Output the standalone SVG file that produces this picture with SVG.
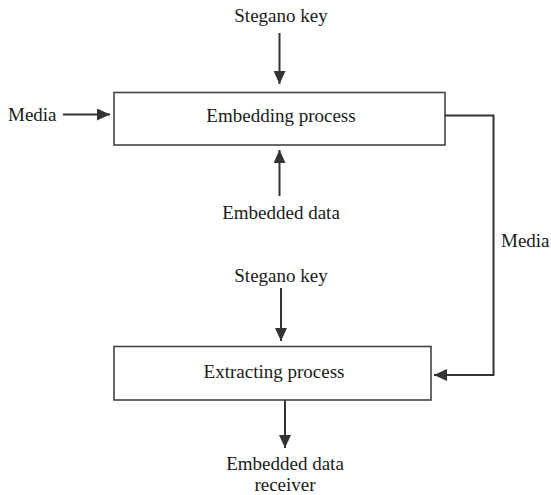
<svg xmlns="http://www.w3.org/2000/svg" width="551" height="495" viewBox="0 0 551 495">
  <style>
    .box { fill: #ffffff; stroke: #444444; stroke-width: 1.6; }
    .lbl { font-family: "Liberation Serif", "Times New Roman", serif; font-size: 19px; fill: #1a1a1a; }
    .mid { text-anchor: middle; }
    .wire { fill: none; stroke: #333333; stroke-width: 2; }
  </style>
  <defs>
    <marker id="head" markerWidth="13" markerHeight="12" refX="13" refY="6" orient="auto" markerUnits="userSpaceOnUse">
      <path d="M0,0 L13,6 L0,12 Z" fill="#333333"/>
    </marker>
  </defs>

  <rect width="551" height="495" fill="#ffffff"/>

  <g id="embedding">
    <rect class="box" x="114" y="92.5" width="331" height="52.5"/>
    <text class="lbl mid" x="281" y="122">Embedding process</text>
  </g>

  <g id="extracting">
    <rect class="box" x="114" y="346.5" width="317" height="53.5"/>
    <text class="lbl mid" x="274" y="378">Extracting process</text>
  </g>

  <g id="key-top">
    <text class="lbl mid" x="281" y="22">Stegano key</text>
  </g>
  <g id="media-in">
    <text class="lbl" x="8" y="121">Media</text>
  </g>
  <g id="data-in">
    <text class="lbl mid" x="281" y="219">Embedded data</text>
  </g>
  <g id="key-bottom">
    <text class="lbl mid" x="281" y="282">Stegano key</text>
  </g>
  <g id="media-out">
    <text class="lbl" x="501" y="247">Media</text>
  </g>
  <g id="receiver">
    <text class="lbl mid" x="285" y="470">Embedded data</text>
    <text class="lbl mid" x="285" y="491">receiver</text>
  </g>

  <g id="connectors">
    <line class="wire" x1="279.5" y1="33" x2="279.5" y2="84" marker-end="url(#head)"/>
    <line class="wire" x1="63" y1="114.5" x2="110" y2="114.5" marker-end="url(#head)"/>
    <line class="wire" x1="279.5" y1="196" x2="279.5" y2="150" marker-end="url(#head)"/>
    <polyline class="wire" points="445,115.5 493.5,115.5 493.5,375 434,375" marker-end="url(#head)"/>
    <line class="wire" x1="281" y1="288" x2="281" y2="341" marker-end="url(#head)"/>
    <line class="wire" x1="285" y1="400" x2="285" y2="448" marker-end="url(#head)"/>
  </g>
</svg>
